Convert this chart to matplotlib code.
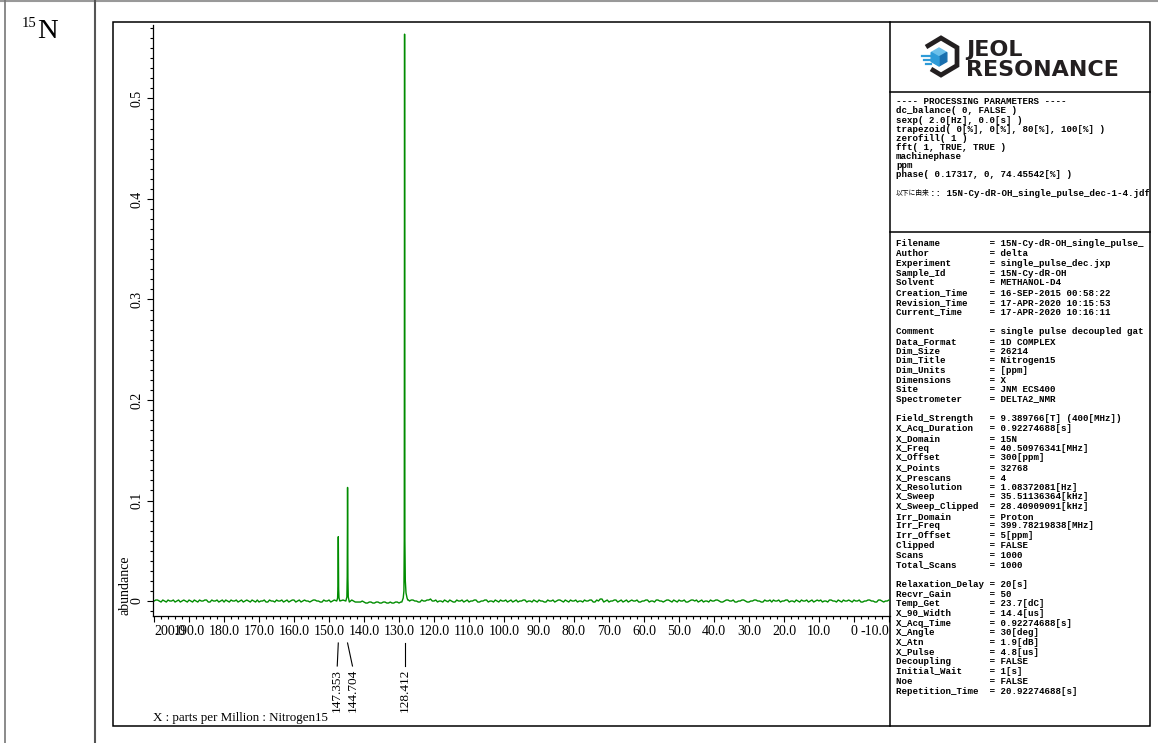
import numpy as np
import matplotlib
matplotlib.use('Agg')
import matplotlib.pyplot as plt
import matplotlib.transforms as mtransforms
from matplotlib.patches import Polygon, Rectangle
from matplotlib.ticker import MultipleLocator

# ---- spectrum data ----
# baseline noise in units of 0.001, whole ppm from 200 to -10
base_ppm = np.arange(200, -11, -1)
base_noise = np.array([
    0, 1, -1, 0, 1, 0, -1, 1, 0, 0,
    1, -1, 0, 1, 0, 1, -1, 0, 1, 0,
    -1, 0, 1, 0, -1, 1, 0, 0, 1, -1,
    -1, 0, -1, 1, 0, 1, 0, -1, 1, 0,
    1, 0, -1, 1, 0, 0, 1, 0, -1, 0,
    1, 0, -1, 0, 1, -1, 0, 0, -1, -1,
    -1, -2, -1, -2, -1, -2, -1, -2, -2, -1,
    -2, -1, 0, 0, 1, 0, -1, 0, 1, 2,
    0, -1, 0, 1, -1, 0, -1, 0, 1, 0,
    -1, 0, 1, -1, 0, 1, 0, -1, 0, 1,
    0, -1, 1, 0, -1, 0, 1, 0, -1, 0,
    1, 0, -1, 0, 1, 0, 1, -1, 0, 1,
    0, -1, 0, 1, 0, 1, -1, 0, 2, 0,
    -1, 0, 1, 0, -1, 1, 0, 0, 1, -1,
    0, 1, 0, -1, 1, 0, 0, 1, -1, 0,
    1, 0, -1, 0, 1, 1, 0, -1, 0, 1,
    0, 1, -1, 0, 1, 0, -1, 0, 1, 0,
    -1, 0, 1, 0, -1, 0, 1, 1, 0, -1,
    0, 1, 0, -1, 0, 1, 0, -1, 1, 0,
    0, -1, 0, 1, 0, -1, 0, 1, 0, 0,
    1, 0, -1, 0, 1, 0, -1, 1, 0, 0, 1])
# half-ppm points from 199.5 to -9.5
half_ppm = np.arange(199.5, -10, -1)
half_noise = np.array([
    1, 0, 1, -1, 0, 1, 0, -1, 1, -1,
    0, 1, -1, 0, 1, -1, 1, 0, -1, 1,
    1, -1, 0, 1, 0, -1, 1, -1, 0, 1,
    0, 1, -1, 0, -1, 0, 1, 0, -1, 1,
    -1, 1, 0, 0, -1, 1, 0, -1, 1, 0,
    -1, 1, 0, 1, -1, 0, 1, -1, -1, 0,
    -2, -1, -2, -1, -2, -1, -2, -1, -2, -1,
    -1, 0, 1, 1, 0, -1, 1, 0, 1, 0,
    1, 0, -1, 0, 1, -1, 1, 0, -1, 1,
    0, 1, -1, 0, 1, -1, 0, 1, -1, 0,
    1, 0, -1, 1, 0, 1, -1, 0, 1, -1,
    0, -1, 1, 0, -1, 1, 0, 1, -1, 0,
    1, 0, -1, 0, 1, -1, 1, 2, -1, 1,
    0, 1, -1, 1, 0, -1, 1, 0, -1, 0,
    1, -1, 0, 1, 0, -1, 1, 0, 1, -1,
    0, 1, -1, 1, 0, -1, 1, 0, -1, 0,
    1, 0, -1, 1, 0, 1, -1, 0, 1, -1,
    0, 1, 0, -1, 1, 0, -1, 0, 1, 0,
    1, -1, 0, 1, -1, 0, 1, 0, -1, 1,
    1, 0, -1, 1, 0, 1, -1, 0, 1, -1,
    0, 1, -1, 0, 1, 0, -1, 1, -1, 0])

peak_ppm = [147.353, 144.704, 128.412]
peak_labels = ['147.353', '144.704', '128.412']

p1_ppm = [147.8, 147.55, 147.45, 147.353, 147.25, 147.15, 146.9]
p1_val = [0.000, 0.003, 0.015, 0.064, 0.012, 0.003, 0.000]
p2_ppm = [145.2, 144.9, 144.8, 144.704, 144.6, 144.5, 144.2]
p2_val = [0.000, 0.004, 0.025, 0.113, 0.022, 0.004, -0.001]
p3_ppm = [129.2, 128.8, 128.6, 128.5, 128.412, 128.32, 128.2, 128.0, 127.7, 127.3]
p3_val = [-0.001, 0.003, 0.010, 0.060, 0.564, 0.060, 0.020, 0.008, 0.003, 0.001]

x_ticks = [200, 190, 180, 170, 160, 150, 140, 130, 120, 110, 100,
           90, 80, 70, 60, 50, 40, 30, 20, 10, 0, -10]
x_ticklabels = ['200.0', '190.0', '180.0', '170.0', '160.0', '150.0', '140.0',
                '130.0', '120.0', '110.0', '100.0', '90.0', '80.0', '70.0',
                '60.0', '50.0', '40.0', '30.0', '20.0', '10.0', '0', '-10.0']
y_ticks = [0, 0.1, 0.2, 0.3, 0.4, 0.5]
y_ticklabels = ['0', '0.1', '0.2', '0.3', '0.4', '0.5']

proc_lines = [
    '---- PROCESSING PARAMETERS ----',
    'dc_balance( 0, FALSE )',
    'sexp( 2.0[Hz], 0.0[s] )',
    'trapezoid( 0[%], 0[%], 80[%], 100[%] )',
    'zerofill( 1 )',
    'fft( 1, TRUE, TRUE )',
    'machinephase',
    'ppm',
    'phase( 0.17317, 0, 74.45542[%] )',
]
derived_jp = '以下に由来'
derived_file = ':: 15N-Cy-dR-OH_single_pulse_dec-1-4.jdf'

info_keys = ['Filename', 'Author', 'Experiment', 'Sample_Id', 'Solvent',
             'Creation_Time', 'Revision_Time', 'Current_Time', None,
             'Comment', 'Data_Format', 'Dim_Size', 'Dim_Title', 'Dim_Units',
             'Dimensions', 'Site', 'Spectrometer', None,
             'Field_Strength', 'X_Acq_Duration', 'X_Domain', 'X_Freq',
             'X_Offset', 'X_Points', 'X_Prescans', 'X_Resolution', 'X_Sweep',
             'X_Sweep_Clipped', 'Irr_Domain', 'Irr_Freq', 'Irr_Offset',
             'Clipped', 'Scans', 'Total_Scans', None,
             'Relaxation_Delay', 'Recvr_Gain', 'Temp_Get', 'X_90_Width',
             'X_Acq_Time', 'X_Angle', 'X_Atn', 'X_Pulse', 'Decoupling',
             'Initial_Wait', 'Noe', 'Repetition_Time']
info_vals = ['15N-Cy-dR-OH_single_pulse_', 'delta', 'single_pulse_dec.jxp',
             '15N-Cy-dR-OH', 'METHANOL-D4', '16-SEP-2015 00:58:22',
             '17-APR-2020 10:15:53', '17-APR-2020 10:16:11', None,
             'single pulse decoupled gat', '1D COMPLEX', '26214', 'Nitrogen15',
             '[ppm]', 'X', 'JNM ECS400', 'DELTA2_NMR', None,
             '9.389766[T] (400[MHz])', '0.92274688[s]', '15N',
             '40.50976341[MHz]', '300[ppm]', '32768', '4', '1.08372081[Hz]',
             '35.51136364[kHz]', '28.40909091[kHz]', 'Proton',
             '399.78219838[MHz]', '5[ppm]', 'FALSE', '1000', '1000', None,
             '20[s]', '50', '23.7[dC]', '14.4[us]', '0.92274688[s]',
             '30[deg]', '1.9[dB]', '4.8[us]', 'FALSE', '1[s]', 'FALSE',
             '20.92274688[s]']

W, H = 1158, 743
serif = 'Liberation Serif'
mono = 'Liberation Mono'
green = '#008c00'

fig = plt.figure(figsize=(W / 100, H / 100), dpi=100)

# overlay in pixel coordinates for frames, logo and loose text
ov = fig.add_axes([0, 0, 1, 1])
ov.set_xlim(0, W)
ov.set_ylim(H, 0)
ov.axis('off')

ov.plot([0, W], [0.8, 0.8], color='#999999', lw=1.5)
ov.plot([4.5, 4.5], [0, H], color='#777777', lw=1.2)
ov.plot([95, 95], [0, H], color='#555555', lw=1.5)
ov.add_patch(Rectangle((113, 22), 1150 - 113, 726 - 22, fill=False,
                       edgecolor='black', lw=1.1))
ov.plot([890, 890], [22, 726], color='black', lw=1.1)
ov.plot([890, 1150], [92, 92], color='black', lw=1.1)
ov.plot([890, 1150], [232, 232], color='black', lw=1.1)

ov.text(21.5, 27, '15', family=serif, fontsize=10.5, va='baseline')
ov.text(37.5, 38, 'N', family=serif, fontsize=20.5, va='baseline')

# logo
ov.plot([926, 941, 957, 957, 941, 931], [47, 38, 47.5, 65.5, 75, 69],
        color='#231f20', lw=3.4, solid_joinstyle='miter', solid_capstyle='butt')
cx, cy, r = 939, 57, 9
top = (cx, cy - r)
ur = (cx + 0.87 * r, cy - r / 2)
lr = (cx + 0.87 * r, cy + r / 2)
bot = (cx, cy + r)
ll = (cx - 0.87 * r, cy + r / 2)
ul = (cx - 0.87 * r, cy - r / 2)
ctr = (cx, cy)
ov.add_patch(Polygon([top, ur, ctr, ul], closed=True, color='#6cc0ea'))
ov.add_patch(Polygon([ur, lr, bot, ctr], closed=True, color='#1a6fae'))
ov.add_patch(Polygon([ul, ctr, bot, ll], closed=True, color='#2e9bd8'))
for yy, x0 in [(55.5, 922), (59.5, 924), (63.5, 926)]:
    ov.plot([x0, cx - 0.87 * r], [yy, yy], color='#2e9bd8', lw=1.6)
ov.text(966, 56, 'JEOL', family='DejaVu Sans', fontweight='heavy',
        fontsize=16, va='baseline', color='#231f20')
ov.text(966, 75.5, 'RESONANCE', family='DejaVu Sans', fontweight='heavy',
        fontsize=16, va='baseline', color='#231f20')

# parameter panel text, clipped at the panel border
clip = mtransforms.Bbox.from_extents(890, H - 726, 1149, H - 22)
def panel_text(x, y, s, **kw):
    t = ov.text(x, y, s, va='center', ha='left', **kw)
    t.set_clip_box(clip)
    t.set_clip_on(True)
    return t

pw = 'bold'
for i, line in enumerate(proc_lines):
    panel_text(896, 101.7 + i * 9.16, line, family=mono, fontsize=6.6,
               fontweight=pw)
panel_text(896, 193.3, derived_jp, family='Noto Sans CJK JP', fontsize=4.9)
panel_text(930, 193.3, derived_file, family=mono, fontsize=6.6, fontweight=pw)

for i, (k, v) in enumerate(zip(info_keys, info_vals)):
    if k is None:
        continue
    panel_text(896, 244 + i * 9.72, f'{k:<17}= {v}', family=mono,
               fontsize=6.6, fontweight=pw)

# ---- spectrum ----
x0f, x1f = 153 / W, 890 / W
y0f, y1f = 1 - 616 / H, 1 - 25 / H
ax = fig.add_axes([x0f, y0f, x1f - x0f, y1f - y0f])
ax.patch.set_visible(False)

all_ppm = np.concatenate([base_ppm, half_ppm])
all_noise = np.concatenate([base_noise, half_noise]) * 0.001
keep = np.all([np.abs(all_ppm - p) > 0.9 for p in peak_ppm], axis=0)
ppm = np.concatenate([all_ppm[keep], p1_ppm, p2_ppm, p3_ppm])
val = np.concatenate([all_noise[keep], p1_val, p2_val, p3_val])
order = np.argsort(-ppm)
ax.plot(ppm[order], val[order], color=green, lw=1.0)

ax.set_xlim(200.3, -10.3)
ax.set_ylim(-0.0149, 0.5731)
for s in ['top', 'right']:
    ax.spines[s].set_visible(False)
for s in ['left', 'bottom']:
    ax.spines[s].set_linewidth(0.9)

ax.set_xticks(x_ticks, x_ticklabels)
ax.xaxis.set_minor_locator(MultipleLocator(2))
ax.set_yticks(y_ticks, y_ticklabels)
ax.yaxis.set_minor_locator(MultipleLocator(0.01))
ax.tick_params(which='major', length=4, width=0.8, pad=2.5)
ax.tick_params(which='minor', length=2.4, width=0.8)
for lab in ax.get_xticklabels() + ax.get_yticklabels():
    lab.set_family(serif)
    lab.set_fontsize(10)
for lab in ax.get_yticklabels():
    lab.set_rotation(90)
    lab.set_va('center')
xl = ax.get_xticklabels()
xl[0].set_ha('left')
xl[-1].set_ha('right')

# peak pick labels
trans = mtransforms.blended_transform_factory(ax.transData, ov.transData)
label_shift = [0.3, -1.4, 0.0]
for pk, lab, sh in zip(peak_ppm, peak_labels, label_shift):
    ax.plot([pk, pk + sh], [643, 666], transform=trans, clip_on=False,
            color='black', lw=0.8)
    ax.text(pk + sh, 669, lab, transform=trans, rotation=90, ha='center',
            va='top', family=serif, fontsize=9.5, clip_on=False)

ov.text(153, 721, 'X : parts per Million : Nitrogen15', family=serif,
        fontsize=9.4, va='baseline')
ov.text(125, 615, 'abundance', family=serif, fontsize=10, rotation=90,
        ha='center', va='bottom')

fig.savefig('out.png', dpi=100)
